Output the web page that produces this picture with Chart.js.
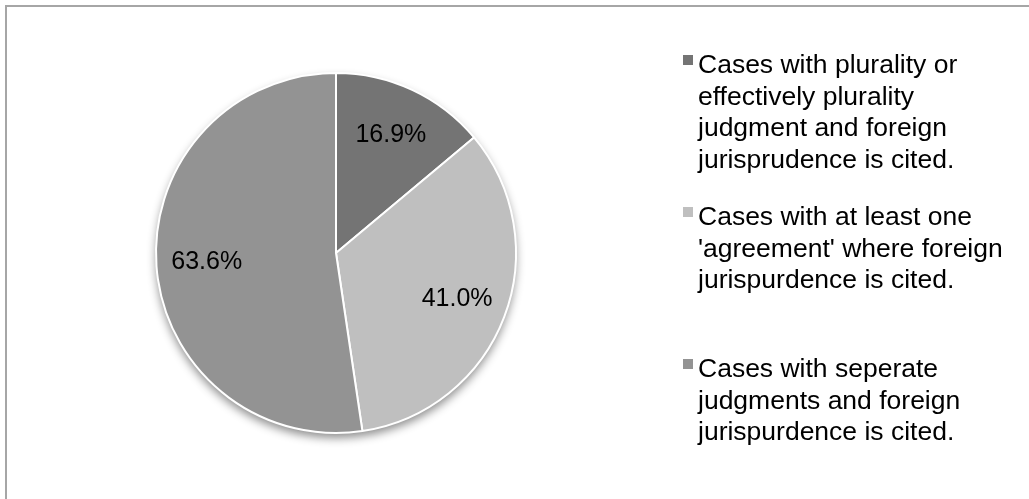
<!DOCTYPE html>
<html>
<head>
<meta charset="utf-8">
<script src="https://cdn.jsdelivr.net/npm/chart.js@4.4.1/dist/chart.umd.min.js"></script>
<style>
  html, body { margin: 0; padding: 0; background: #ffffff; }
  #frame {
    position: absolute; left: 5px; top: 5px; width: 1040px; height: 520px;
    border-left: 2px solid #a6a6a6; border-top: 2px solid #a6a6a6;
  }
  #wrap { position: absolute; left: 0; top: 0; width: 1029px; height: 499px; }
</style>
</head>
<body>
<div id="frame"></div>
<div id="wrap"><canvas id="myChart"></canvas></div>
<script>
"use strict";

let categories = [
  ["Cases with plurality or", "effectively plurality", "judgment and foreign", "jurisprudence is cited."],
  ["Cases with at least one", "'agreement' where foreign", "jurispurdence is cited."],
  ["Cases with seperate", "judgments and foreign", "jurispurdence is cited."]
];
let percentValues = [16.9, 41.0, 63.6];
let sliceColors = ["#747474", "#bfbfbf", "#939393"];

let fontFamily = "'Liberation Sans', Arial, Helvetica, sans-serif";

// soft shadow under the whole disc
let pieShadow = {
  id: "pieShadow",
  beforeDatasetsDraw(chart) {
    let arc = chart.getDatasetMeta(0).data[0];
    if (!arc) return;
    let ctx = chart.ctx;
    ctx.save();
    ctx.shadowColor = "rgba(0,0,0,0.45)";
    ctx.shadowBlur = 10;
    ctx.shadowOffsetY = 5;
    ctx.fillStyle = "#ffffff";
    ctx.beginPath();
    ctx.arc(arc.x, arc.y, arc.outerRadius, 0, Math.PI * 2);
    ctx.fill();
    ctx.restore();
  }
};

// percentage text inside each slice
let sliceLabels = {
  id: "sliceLabels",
  afterDatasetsDraw(chart) {
    let ctx = chart.ctx;
    let meta = chart.getDatasetMeta(0);
    ctx.save();
    ctx.font = "25px " + fontFamily;
    ctx.fillStyle = "#000000";
    ctx.textAlign = "center";
    ctx.textBaseline = "middle";
    meta.data.forEach(function(arc, i) {
      let mid = (arc.startAngle + arc.endAngle) / 2;
      let r = arc.outerRadius * 0.72;
      ctx.fillText(percentValues[i].toFixed(1) + "%", arc.x + Math.cos(mid) * r, arc.y + Math.sin(mid) * r);
    });
    ctx.restore();
  }
};

// wrapped legend on the right, one slot of 152px per entry
let sideLegend = {
  id: "sideLegend",
  afterDraw(chart) {
    let ctx = chart.ctx;
    let firstBaseline = 73;
    let slot = 152;
    let lineStep = 31.7;
    ctx.save();
    ctx.font = "26.5px " + fontFamily;
    ctx.textBaseline = "alphabetic";
    ctx.textAlign = "left";
    for (let i = 0; i < categories.length; i++) {
      let base = firstBaseline + i * slot;
      ctx.fillStyle = sliceColors[i];
      ctx.fillRect(683, base - 18, 10, 10);
      ctx.fillStyle = "#000000";
      for (let j = 0; j < categories[i].length; j++) {
        ctx.fillText(categories[i][j], 698, base + j * lineStep);
      }
    }
    ctx.restore();
  }
};

let chartObject = {
  type: "pie",
  data: {
    labels: categories.map(function(c) { return c.join(" "); }),
    datasets: [{
      data: percentValues,
      backgroundColor: sliceColors,
      borderColor: "#ffffff",
      borderWidth: 2
    }]
  },
  options: {
    responsive: false,
    animation: false,
    layout: {
      padding: { left: 155, right: 512, top: 72, bottom: 65 }
    },
    plugins: {
      legend: { display: false },
      tooltip: { enabled: false }
    }
  },
  plugins: [pieShadow, sliceLabels, sideLegend]
};

let canvas = document.getElementById("myChart");
canvas.width = 1029;
canvas.height = 499;
let ctx = canvas.getContext("2d");
let myChart = new Chart(ctx, chartObject);
</script>
</body>
</html>
